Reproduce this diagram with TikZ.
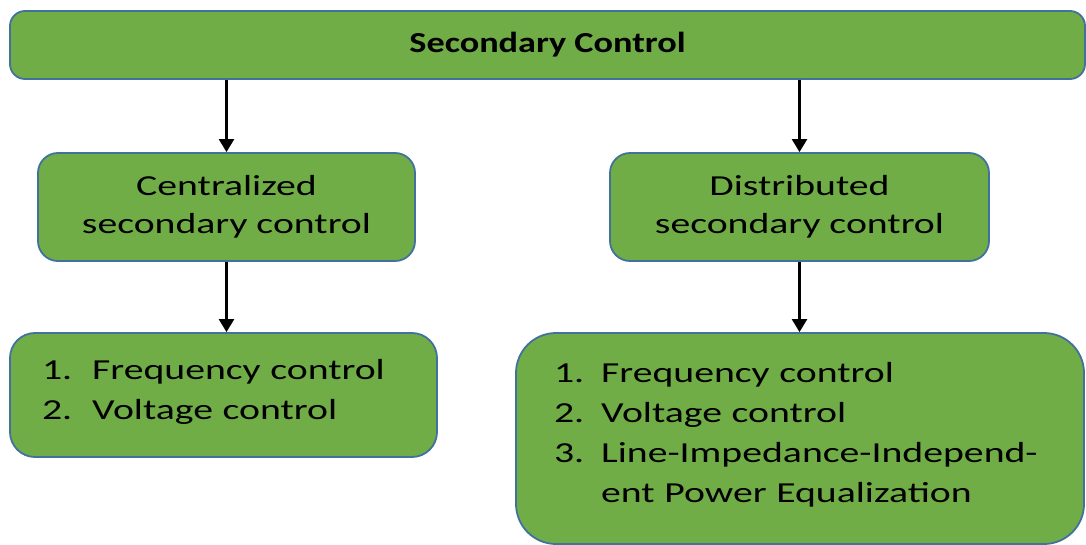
\documentclass[tikz,border=0pt]{standalone}
\usepackage{fontspec}
\setmainfont{Carlito}[FakeStretch=1.37, BoldFeatures={FakeStretch=1.25}]
\usetikzlibrary{arrows.meta}
\definecolor{boxgreen}{HTML}{70AD47}
\definecolor{boxblue}{HTML}{41719C}
\tikzset{
  box/.style={draw=boxblue, fill=boxgreen, line width=1.8pt, inner sep=0pt, text=black},
  arr/.style={draw=black, line width=2.4pt, -{Triangle[length=13pt,width=15pt]}}
}
\begin{document}
\begin{tikzpicture}[x=1pt,y=-1pt]
\useasboundingbox (0,0) rectangle (1086,545);
\node[box, rounded corners=15pt, minimum width=1075pt, minimum height=68pt,
      font=\fontsize{29}{36}\selectfont\bfseries] (top) at (547.5,45) {\raisebox{3pt}{Secondary Control}};
\node[box, rounded corners=20pt, minimum width=377pt, minimum height=108pt, align=center,
      font=\fontsize{29}{38}\selectfont] (cen) at (226.5,207) {Centralized\\secondary control};
\node[box, rounded corners=20pt, minimum width=379pt, minimum height=108pt, align=center,
      font=\fontsize{29}{38}\selectfont] (dis) at (799.5,207) {Distributed\\secondary control};
\node[box, rounded corners=25pt, minimum width=427pt, minimum height=124pt,
      font=\fontsize{29}{40}\selectfont, text width=427pt, align=left] (bl) at (223.5,395)
  {\noindent\hspace*{32pt}\begin{tabular}{@{}l@{\hspace{20pt}}l@{}}1. & Frequency control\\ 2. & Voltage control\\[8pt]\end{tabular}};
\node[box, rounded corners=40pt, minimum width=568pt, minimum height=211pt,
      font=\fontsize{29}{40}\selectfont, text width=568pt, align=left] (br) at (800,438.5)
  {\noindent\hspace*{38pt}\begin{tabular}{@{}l@{\hspace{17pt}}l@{}}1. & Frequency control\\ 2. & Voltage control\\ 3. & Line-Impedance-Independ-\\ & ent Power Equalization\\[8pt]\end{tabular}};
\draw[arr] (top.south -| cen.north) -- (cen.north);
\draw[arr] (top.south -| dis.north) -- (dis.north);
\draw[arr] (cen.south) -- (cen.south |- bl.north);
\draw[arr] (dis.south) -- (dis.south |- br.north);
\end{tikzpicture}
\end{document}
